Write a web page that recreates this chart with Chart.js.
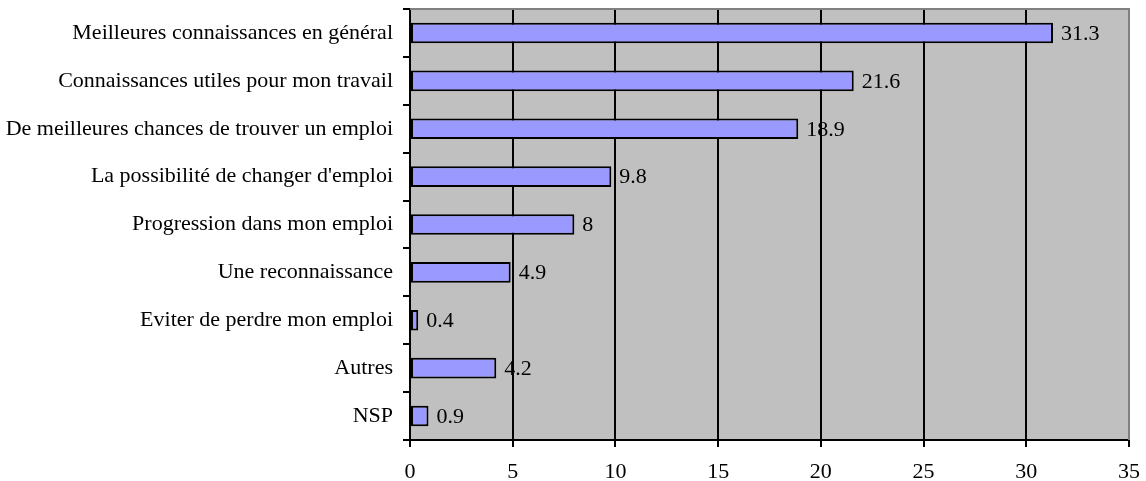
<!DOCTYPE html>
<html>
<head>
<meta charset="utf-8">
<script src="https://cdn.jsdelivr.net/npm/chart.js@4.4.1/dist/chart.umd.min.js"></script>
<style>
  html, body { margin: 0; padding: 0; background: #ffffff; }
  #wrap { width: 1146px; height: 481px; position: relative; }
</style>
</head>
<body>
<div id="wrap"><canvas id="c" width="1146" height="481"></canvas></div>
<script>
const categories = [
  "Meilleures connaissances en général",
  "Connaissances utiles pour mon travail",
  "De meilleures chances de trouver un emploi",
  "La possibilité de changer d'emploi",
  "Progression dans mon emploi",
  "Une reconnaissance",
  "Eviter de perdre mon emploi",
  "Autres",
  "NSP"
];
const values = [31.3, 21.6, 18.9, 9.8, 8, 4.9, 0.4, 4.2, 0.9];
const xTicks = [0, 5, 10, 15, 20, 25, 30, 35];

const FONT = "'Liberation Serif', 'Times New Roman', serif";
const FONT_SIZE = 22;

// Grey plot background plus the grey frame on top and right
const plotFrame = {
  id: 'plotFrame',
  beforeDraw(chart) {
    const { ctx, chartArea: a } = chart;
    ctx.save();
    ctx.fillStyle = '#c0c0c0';
    ctx.fillRect(a.left, a.top, a.right - a.left, a.bottom - a.top);
    ctx.restore();
  },
  afterDraw(chart) {
    const { ctx, chartArea: a } = chart;
    ctx.save();
    ctx.strokeStyle = '#808080';
    ctx.lineWidth = 2;
    ctx.beginPath();
    ctx.moveTo(a.left, a.top);
    ctx.lineTo(a.right, a.top);
    ctx.lineTo(a.right, a.bottom);
    ctx.stroke();
    ctx.restore();
  }
};

// Value labels to the right of each bar
const valueLabels = {
  id: 'valueLabels',
  afterDatasetsDraw(chart) {
    const { ctx } = chart;
    const meta = chart.getDatasetMeta(0);
    ctx.save();
    ctx.fillStyle = '#000';
    ctx.font = FONT_SIZE + 'px ' + FONT;
    ctx.textAlign = 'left';
    ctx.textBaseline = 'middle';
    meta.data.forEach((bar, i) => {
      ctx.fillText(String(values[i]), bar.x + 8, bar.y + 1);
    });
    ctx.restore();
  }
};

new Chart(document.getElementById('c'), {
  type: 'bar',
  data: {
    labels: categories,
    datasets: [{
      data: values,
      backgroundColor: '#9999ff',
      borderColor: '#000000',
      borderWidth: 2,
      borderSkipped: false,
      categoryPercentage: 0.43,
      barPercentage: 1.0
    }]
  },
  options: {
    indexAxis: 'y',
    responsive: false,
    animation: false,
    layout: { padding: { top: 9, right: 17, left: 0, bottom: 0 } },
    plugins: { legend: { display: false }, tooltip: { enabled: false } },
    scales: {
      x: {
        type: 'linear',
        min: 0,
        max: 35,
        afterBuildTicks(scale) { scale.ticks = xTicks.map(v => ({ value: v })); },
        afterFit(scale) {
          scale.height = 41;
          scale.paddingLeft = 0;
          scale.paddingRight = 0;
        },
        grid: {
          color: '#000000',
          lineWidth: 2,
          drawOnChartArea: true,
          drawTicks: true,
          tickLength: 7,
          tickColor: '#000000'
        },
        border: { display: true, color: '#000000', width: 2 },
        ticks: {
          color: '#000000',
          font: { family: FONT, size: FONT_SIZE },
          padding: 12,
          maxRotation: 0
        }
      },
      y: {
        afterFit(scale) {
          scale.width = 410;
          scale.paddingTop = 0;
          scale.paddingBottom = 0;
        },
        grid: {
          offset: true,
          drawOnChartArea: false,
          drawTicks: true,
          tickLength: 7,
          tickColor: '#000000',
          lineWidth: 2
        },
        border: { display: true, color: '#000000', width: 2 },
        ticks: {
          color: '#000000',
          font: { family: FONT, size: FONT_SIZE },
          padding: 10,
          autoSkip: false
        }
      }
    }
  },
  plugins: [plotFrame, valueLabels]
});
</script>
</body>
</html>
